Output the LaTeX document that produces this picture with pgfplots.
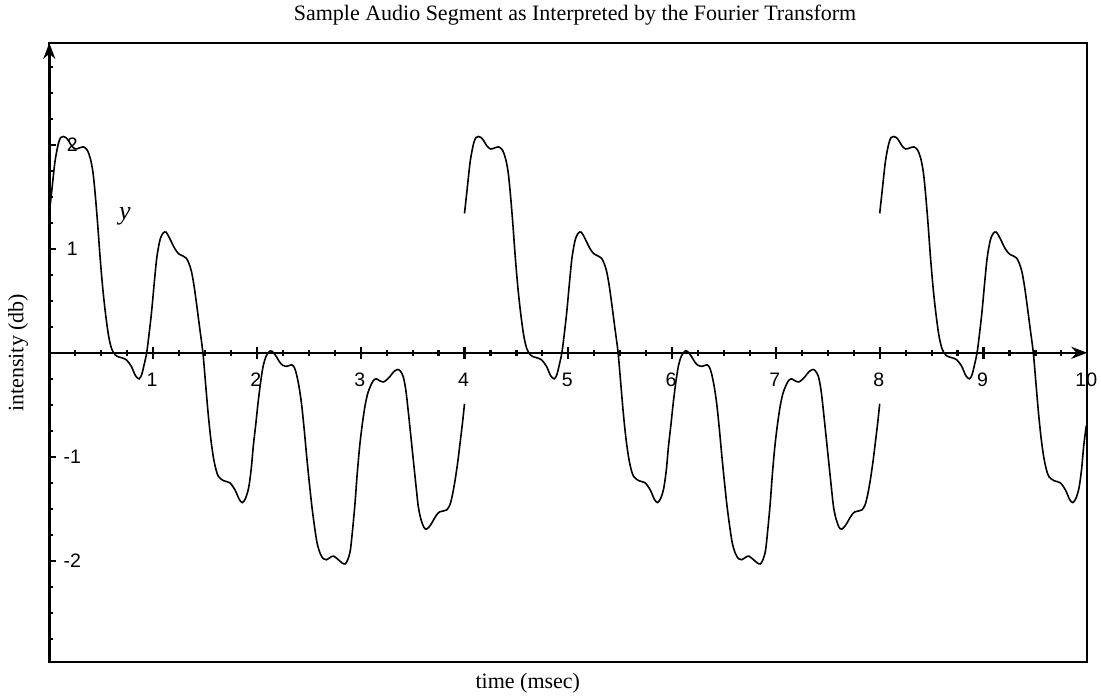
\documentclass[border=0pt]{standalone}
\usepackage{fontspec}
\setmainfont{Liberation Serif}
\newfontfamily\ticksans{Liberation Sans}
\usepackage{pgfplots}
\usepackage{pgfplotstable}
\pgfplotsset{compat=1.18}
\usetikzlibrary{arrows.meta}

% first window, 0 to 4 msec
\pgfplotstableread{
x y
0.000 1.34
0.023 1.55
0.055 1.84
0.087 2.01
0.110 2.07
0.135 2.08
0.160 2.07
0.185 2.04
0.215 1.99
0.250 1.96
0.290 1.97
0.330 1.98
0.365 1.95
0.395 1.87
0.420 1.74
0.440 1.55
0.465 1.25
0.490 0.91
0.515 0.62
0.540 0.39
0.570 0.17
0.600 0.04
0.635 -0.02
0.670 -0.04
0.705 -0.05
0.745 -0.07
0.790 -0.13
0.830 -0.22
0.865 -0.25
0.890 -0.21
0.910 -0.13
0.938 0.00
0.960 0.17
0.985 0.39
1.010 0.66
1.035 0.91
1.065 1.08
1.095 1.15
1.125 1.16
1.160 1.10
1.210 1.00
1.250 0.95
1.290 0.93
1.320 0.91
1.345 0.86
1.370 0.78
1.395 0.64
1.420 0.46
1.450 0.23
1.480 0.00
1.505 -0.29
1.530 -0.58
1.555 -0.82
1.580 -1.00
1.605 -1.12
1.630 -1.19
1.680 -1.23
1.740 -1.25
1.790 -1.32
1.830 -1.41
1.860 -1.44
1.890 -1.40
1.920 -1.30
1.945 -1.12
1.965 -0.90
1.990 -0.68
2.010 -0.49
2.035 -0.29
2.060 -0.13
2.090 -0.03
2.130 0.02
2.160 0.00
2.190 -0.04
2.220 -0.09
2.250 -0.12
2.290 -0.13
2.335 -0.115
2.360 -0.14
2.380 -0.20
2.405 -0.32
2.430 -0.49
2.455 -0.73
2.480 -1.00
2.505 -1.25
2.530 -1.48
2.555 -1.67
2.580 -1.83
2.610 -1.93
2.640 -1.98
2.670 -1.99
2.710 -1.965
2.740 -1.955
2.785 -1.99
2.820 -2.02
2.850 -2.03
2.875 -1.99
2.900 -1.90
2.920 -1.72
2.945 -1.45
2.965 -1.18
2.990 -0.90
3.015 -0.69
3.040 -0.52
3.065 -0.40
3.090 -0.33
3.120 -0.27
3.150 -0.25
3.185 -0.27
3.220 -0.28
3.250 -0.26
3.280 -0.23
3.320 -0.18
3.360 -0.16
3.385 -0.18
3.410 -0.23
3.435 -0.36
3.460 -0.58
3.485 -0.82
3.510 -1.06
3.535 -1.30
3.555 -1.48
3.580 -1.60
3.610 -1.68
3.635 -1.695
3.670 -1.66
3.700 -1.61
3.730 -1.56
3.760 -1.53
3.800 -1.52
3.830 -1.51
3.860 -1.46
3.885 -1.36
3.910 -1.22
3.935 -1.05
3.957 -0.87
3.980 -0.68
4.000 -0.49
}\segA

% second window, 4 to 8 msec
\pgfplotstableread{
x y
4.000 1.34
4.023 1.55
4.055 1.84
4.087 2.01
4.110 2.07
4.135 2.08
4.160 2.07
4.185 2.04
4.215 1.99
4.250 1.96
4.290 1.97
4.330 1.98
4.365 1.95
4.395 1.87
4.420 1.74
4.440 1.55
4.465 1.25
4.490 0.91
4.515 0.62
4.540 0.39
4.570 0.17
4.600 0.04
4.635 -0.02
4.670 -0.04
4.705 -0.05
4.745 -0.07
4.790 -0.13
4.830 -0.22
4.865 -0.25
4.890 -0.21
4.910 -0.13
4.938 0.00
4.960 0.17
4.985 0.39
5.010 0.66
5.035 0.91
5.065 1.08
5.095 1.15
5.125 1.16
5.160 1.10
5.210 1.00
5.250 0.95
5.290 0.93
5.320 0.91
5.345 0.86
5.370 0.78
5.395 0.64
5.420 0.46
5.450 0.23
5.480 0.00
5.505 -0.29
5.530 -0.58
5.555 -0.82
5.580 -1.00
5.605 -1.12
5.630 -1.19
5.680 -1.23
5.740 -1.25
5.790 -1.32
5.830 -1.41
5.860 -1.44
5.890 -1.40
5.920 -1.30
5.945 -1.12
5.965 -0.90
5.990 -0.68
6.010 -0.49
6.035 -0.29
6.060 -0.13
6.090 -0.03
6.130 0.02
6.160 0.00
6.190 -0.04
6.220 -0.09
6.250 -0.12
6.290 -0.13
6.335 -0.115
6.360 -0.14
6.380 -0.20
6.405 -0.32
6.430 -0.49
6.455 -0.73
6.480 -1.00
6.505 -1.25
6.530 -1.48
6.555 -1.67
6.580 -1.83
6.610 -1.93
6.640 -1.98
6.670 -1.99
6.710 -1.965
6.740 -1.955
6.785 -1.99
6.820 -2.02
6.850 -2.03
6.875 -1.99
6.900 -1.90
6.920 -1.72
6.945 -1.45
6.965 -1.18
6.990 -0.90
7.015 -0.69
7.040 -0.52
7.065 -0.40
7.090 -0.33
7.120 -0.27
7.150 -0.25
7.185 -0.27
7.220 -0.28
7.250 -0.26
7.280 -0.23
7.320 -0.18
7.360 -0.16
7.385 -0.18
7.410 -0.23
7.435 -0.36
7.460 -0.58
7.485 -0.82
7.510 -1.06
7.535 -1.30
7.555 -1.48
7.580 -1.60
7.610 -1.68
7.635 -1.695
7.670 -1.66
7.700 -1.61
7.730 -1.56
7.760 -1.53
7.800 -1.52
7.830 -1.51
7.860 -1.46
7.885 -1.36
7.910 -1.22
7.935 -1.05
7.957 -0.87
7.980 -0.68
8.000 -0.49
}\segB

% third window, 8 to 10 msec
\pgfplotstableread{
x y
8.000 1.34
8.023 1.55
8.055 1.84
8.087 2.01
8.110 2.07
8.135 2.08
8.160 2.07
8.185 2.04
8.215 1.99
8.250 1.96
8.290 1.97
8.330 1.98
8.365 1.95
8.395 1.87
8.420 1.74
8.440 1.55
8.465 1.25
8.490 0.91
8.515 0.62
8.540 0.39
8.570 0.17
8.600 0.04
8.635 -0.02
8.670 -0.04
8.705 -0.05
8.745 -0.07
8.790 -0.13
8.830 -0.22
8.865 -0.25
8.890 -0.21
8.910 -0.13
8.938 0.00
8.960 0.17
8.985 0.39
9.010 0.66
9.035 0.91
9.065 1.08
9.095 1.15
9.125 1.16
9.160 1.10
9.210 1.00
9.250 0.95
9.290 0.93
9.320 0.91
9.345 0.86
9.370 0.78
9.395 0.64
9.420 0.46
9.450 0.23
9.480 0.00
9.505 -0.29
9.530 -0.58
9.555 -0.82
9.580 -1.00
9.605 -1.12
9.630 -1.19
9.680 -1.23
9.740 -1.25
9.790 -1.32
9.830 -1.41
9.860 -1.44
9.890 -1.40
9.920 -1.30
9.945 -1.12
9.965 -0.90
9.990 -0.70
}\segC

\begin{document}
\begin{tikzpicture}[x=1pt,y=1pt]
\useasboundingbox (0,0) rectangle (1101,696);
\begin{axis}[
  at={(49.3pt,34.3pt)}, anchor=south west,
  scale only axis, width=1038pt, height=618.8pt,
  xmin=0, xmax=10, ymin=-2.97, ymax=2.98,
  axis lines=middle,
  axis line style={line width=2.4pt, -{Stealth[length=16pt,width=12pt]}},
  xtick={1,...,10}, ytick={-2,-1,1,2},
  xticklabels={1,2,3,4,5,6,7,8,9,10},
  yticklabels={-2,-1,1,2},
  minor xtick={0.25,0.5,...,9.75},
  minor ytick={-2.75,-2.5,...,2.75},
  every tick/.style={black, line width=2.2pt},
  every minor tick/.style={black, line width=2.2pt},
  xtick align=center, ytick align=inside,
  xtick style={/pgfplots/major tick length=12pt, /pgfplots/minor tick length=6pt},
  ytick style={/pgfplots/major tick length=7pt, /pgfplots/minor tick length=4pt},
  every tick label/.append style={font=\ticksans\fontsize{19.5}{20}\selectfont},
  xticklabel style={font=\ticksans\fontsize{19.5}{20}\selectfont, anchor=center, yshift=-25pt, xshift=-1pt},
  yticklabel style={font=\ticksans\fontsize{19.5}{20}\selectfont, anchor=center, xshift=23pt},
  clip=false,
]
  \draw[line width=1.8pt] (rel axis cs:0,0) rectangle (rel axis cs:1,1);
  \addplot[black, line width=1.6pt, smooth, tension=0.5, mark=none] table {\segA};
  \addplot[black, line width=1.6pt, smooth, tension=0.5, mark=none] table {\segB};
  \addplot[black, line width=1.6pt, smooth, tension=0.5, mark=none] table {\segC};
  \node[font=\fontsize{22}{24}\selectfont] at (axis cs:5.065,3.247)
    {Sample Audio Segment as Interpreted by the Fourier Transform};
  \node[font=\fontsize{22}{24}\selectfont] at (axis cs:4.61,-3.176) {time (msec)};
  \node[font=\fontsize{22}{24}\selectfont, rotate=90] at (axis cs:-0.30,0) {intensity (db)};
  \node[font=\fontsize{26}{26}\selectfont\itshape] at (axis cs:0.729,1.31) {y};
\end{axis}
\end{tikzpicture}
\end{document}
